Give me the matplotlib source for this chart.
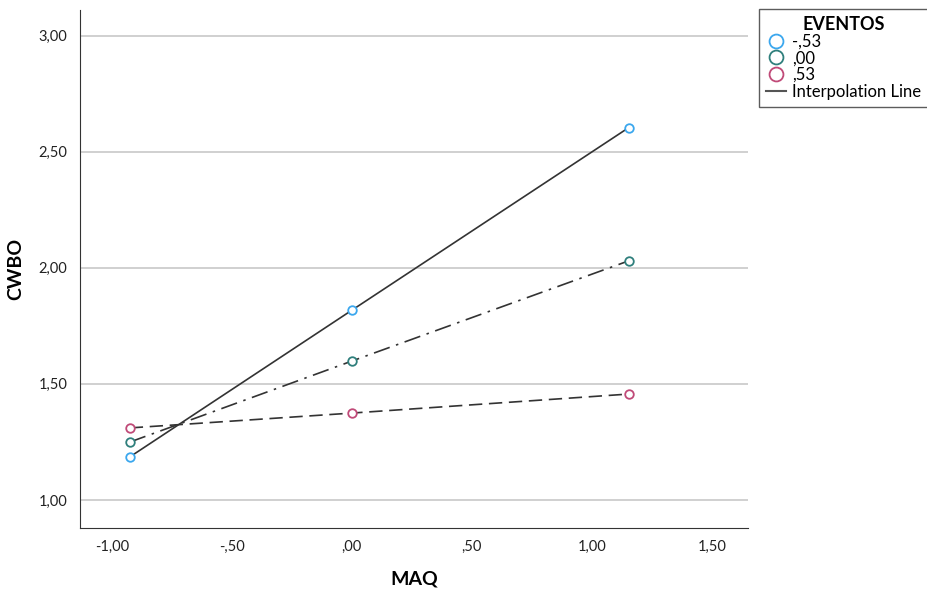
import matplotlib

matplotlib.use("Agg")
import matplotlib.pyplot as plt
from matplotlib.lines import Line2D

plt.rcParams["font.family"] = ["Lato", "DejaVu Sans"]

# MAQ at -1 SD, mean, +1 SD
maq = [-0.925, 0.0, 1.154]
eventos = ["-,53", ",00", ",53"]
cwbo_low = [1.185, 1.817, 2.604]
cwbo_mid = [1.249, 1.598, 2.030]
cwbo_high = [1.310, 1.374, 1.456]

x_ticks = [-1.0, -0.5, 0.0, 0.5, 1.0, 1.5]
x_labels = ["-1,00", "-,50", ",00", ",50", "1,00", "1,50"]
y_ticks = [1.0, 1.5, 2.0, 2.5, 3.0]
y_labels = ["1,00", "1,50", "2,00", "2,50", "3,00"]

series = [
    (cwbo_low, "#3ba7ee", "-"),
    (cwbo_mid, "#2f7f7c", (0, (10, 4, 1.5, 4))),
    (cwbo_high, "#c04a78", (0, (8, 4))),
]

fig = plt.figure(figsize=(9.28, 5.91), dpi=100)
ax = fig.add_axes([0.086, 0.107, 0.72, 0.876])

for vals, col, ls in series:
    ax.plot(maq, vals, color="#333333", lw=1.2, linestyle=ls, zorder=2)
    ax.scatter(maq, vals, s=38, facecolors="white", edgecolors=col,
               linewidths=1.3, zorder=3)

ax.set_xlim(-1.133, 1.65)
ax.set_ylim(0.88, 3.11)
ax.set_xticks(x_ticks)
ax.set_xticklabels(x_labels)
ax.set_yticks(y_ticks)
ax.set_yticklabels(y_labels)
ax.tick_params(length=0, labelsize=10.5, pad=9, colors="#222222")
ax.yaxis.grid(True, color="#c8c8c8", lw=1.2)
ax.set_axisbelow(True)
for side in ("top", "right"):
    ax.spines[side].set_visible(False)
for side in ("left", "bottom"):
    ax.spines[side].set_color("#333333")

ax.set_xlabel("MAQ", fontsize=14, fontweight="bold", labelpad=12)
ax.set_ylabel("CWBO", fontsize=14, fontweight="bold", labelpad=10)

# leyenda fuera del área del gráfico, como en SPSS
handles = [
    Line2D([], [], marker="o", ls="none", ms=10, mfc="white", mec=col, mew=1.3)
    for _, col, _ in series
]
handles.append(Line2D([], [], color="#555555", lw=1.5))
labels = eventos + ["Interpolation Line"]
leg = fig.legend(handles, labels, title="EVENTOS", loc="upper left",
                 bbox_to_anchor=(0.818, 0.985), frameon=True, fancybox=False,
                 edgecolor="#333333", fontsize=12, handlelength=1.2,
                 handletextpad=0.4, labelspacing=0.05, borderpad=0.4,
                 borderaxespad=0)
leg.get_title().set_fontweight("bold")
leg.get_title().set_fontsize(13)

fig.savefig("out.png", dpi=100)
